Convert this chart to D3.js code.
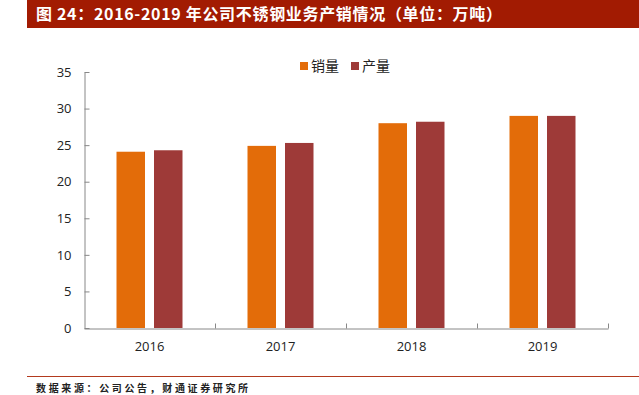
<!DOCTYPE html>
<html>
<head>
<meta charset="utf-8">
<script src="https://cdn.jsdelivr.net/npm/d3@7"></script>
<style>
  body { margin: 0; background: #fff; }
  svg { display: block; font-family: "Noto Sans CJK SC", "DejaVu Sans", sans-serif; }
</style>
</head>
<body>
<svg id="chart" width="639" height="395"></svg>
<script>
var years = ["2016", "2017", "2018", "2019"];
var seriesNames = ["销量", "产量"];
var sales = [24.1, 24.9, 28.0, 29.0];
var output = [24.3, 25.3, 28.2, 29.0];
var yTicks = [0, 5, 10, 15, 20, 25, 30, 35];
var colors = ["#E36C09", "#9E3A38"];

var svg = d3.select("#chart");

// title band
svg.append("rect")
    .attr("x", 27).attr("y", 0)
    .attr("width", 612).attr("height", 28)
    .attr("fill", "#A21B02");
svg.append("text")
    .attr("x", 36).attr("y", 20)
    .attr("fill", "#fff")
    .attr("font-size", 16)
    .attr("font-weight", "bold")
    .attr("textLength", 466)
    .attr("lengthAdjust", "spacing")
    .text("图 24：2016-2019 年公司不锈钢业务产销情况（单位：万吨）");

// footer
svg.append("line")
    .attr("x1", 27).attr("x2", 639)
    .attr("y1", 376.5).attr("y2", 376.5)
    .attr("stroke", "#B33A1E").attr("stroke-width", 1);
svg.append("text")
    .attr("x", 36).attr("y", 392)
    .attr("fill", "#222")
    .attr("font-size", 10)
    .attr("font-weight", "bold")
    .attr("textLength", 212)
    .attr("lengthAdjust", "spacing")
    .text("数据来源：公司公告，财通证券研究所");

var x = d3.scaleBand()
    .domain(years)
    .range([84, 608]);

var y = d3.scaleLinear()
    .domain([0, 35])
    .range([328, 72]);

var inner = d3.scaleBand()
    .domain(seriesNames)
    .range([32.5, x.bandwidth() - 32.5])
    .paddingInner(0.24);

var data = years.map(function(yr, i) {
  return { year: yr, values: [sales[i], output[i]] };
});

var groups = svg.append("g")
  .selectAll("g")
  .data(data)
  .enter().append("g")
    .attr("transform", function(d) { return "translate(" + x(d.year) + ",0)"; });

groups.selectAll("rect")
  .data(function(d) { return d.values.map(function(v, j) { return { key: seriesNames[j], value: v, j: j }; }); })
  .enter().append("rect")
    .attr("x", function(d) { return inner(d.key); })
    .attr("y", function(d) { return y(d.value); })
    .attr("width", inner.bandwidth())
    .attr("height", function(d) { return y(0) - y(d.value); })
    .attr("fill", function(d) { return colors[d.j]; });

// y axis
var yAxis = svg.append("g")
    .attr("transform", "translate(84.5,0)")
    .call(d3.axisLeft(y).tickValues(yTicks).tickSizeInner(-5).tickSizeOuter(0).tickPadding(13));
yAxis.selectAll("text").attr("font-size", 13).attr("fill", "#222").attr("font-family", "Open Sans, DejaVu Sans, sans-serif");
yAxis.selectAll("line, path").attr("stroke", "#888");

// x axis
var xAxis = svg.append("g")
    .attr("transform", "translate(0,328.5)")
    .call(d3.axisBottom(x).tickSize(0).tickPadding(13));
xAxis.selectAll("text").attr("font-size", 13).attr("fill", "#222").attr("font-family", "Open Sans, DejaVu Sans, sans-serif");
xAxis.select("path").attr("stroke", "#888");
xAxis.selectAll(".sep")
  .data(years)
  .enter().append("line")
    .attr("class", "sep")
    .attr("x1", function(d) { return x(d) + x.bandwidth() + 0.5; })
    .attr("x2", function(d) { return x(d) + x.bandwidth() + 0.5; })
    .attr("y1", 0).attr("y2", -5)
    .attr("stroke", "#888");

// legend
var legend = svg.append("g")
  .selectAll("g")
  .data(seriesNames)
  .enter().append("g")
    .attr("transform", function(d, i) { return "translate(" + (300 + i * 51) + ",60)"; });
legend.append("rect")
    .attr("width", 8).attr("height", 8).attr("y", 2)
    .attr("fill", function(d, i) { return colors[i]; });
legend.append("text")
    .attr("x", 11).attr("y", 11)
    .attr("font-size", 14)
    .attr("fill", "#222")
    .text(function(d) { return d; });
</script>
</body>
</html>
